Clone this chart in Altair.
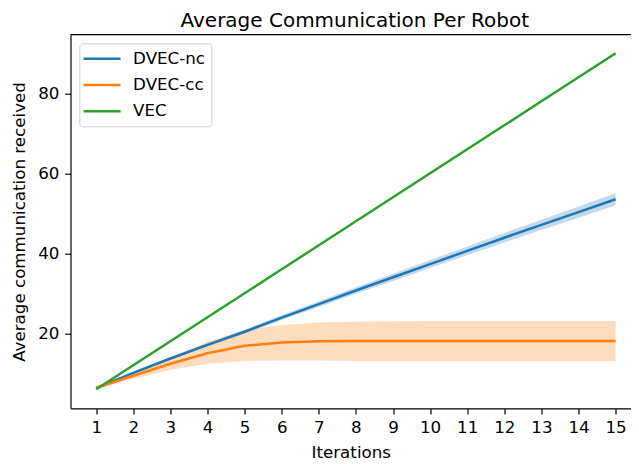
import altair as alt
import pandas as pd

# ---- data ----
iterations = list(range(1, 16))
series_names = ["DVEC-nc", "DVEC-cc", "VEC"]
series_colors = ["#1f77b4", "#ff7f0e", "#2ca02c"]

dvec_nc_mean = [6.3, 10.1, 13.7, 17.1, 20.4, 23.9, 27.3, 30.7, 34.0, 37.3, 40.6, 43.9, 47.1, 50.3, 53.5]
dvec_nc_lo = [6.1, 9.8, 13.3, 16.7, 19.9, 23.3, 26.6, 29.9, 33.1, 36.3, 39.5, 42.7, 45.8, 48.9, 52.0]
dvec_nc_hi = [6.5, 10.4, 14.1, 17.5, 20.9, 24.5, 28.0, 31.5, 34.9, 38.3, 41.7, 45.1, 48.4, 51.7, 55.0]

dvec_cc_mean = [6.4, 9.4, 12.4, 15.0, 16.9, 17.7, 18.0, 18.1, 18.1, 18.1, 18.1, 18.1, 18.1, 18.1, 18.1]
dvec_cc_lo = [6.1, 8.6, 10.9, 12.4, 13.1, 13.2, 13.2, 13.1, 13.1, 13.1, 13.1, 13.1, 13.1, 13.1, 13.1]
dvec_cc_hi = [6.7, 10.1, 13.9, 17.9, 20.8, 22.1, 22.7, 22.9, 23.0, 23.1, 23.1, 23.1, 23.1, 23.1, 23.1]

vec_mean = [6, 12, 18, 24, 30, 36, 42, 48, 54, 60, 66, 72, 78, 84, 90]

x_ticks = iterations
y_ticks = [20, 40, 60, 80]

# ---- tables built from the arrays ----
line_rows = []
for name, vals in zip(series_names, [dvec_nc_mean, dvec_cc_mean, vec_mean]):
    for it, v in zip(iterations, vals):
        line_rows.append({"Iterations": it, "series": name, "value": v})
lines_df = pd.DataFrame(line_rows)

band_rows = []
for name, lo, hi in [("DVEC-nc", dvec_nc_lo, dvec_nc_hi), ("DVEC-cc", dvec_cc_lo, dvec_cc_hi)]:
    for it, a, b in zip(iterations, lo, hi):
        band_rows.append({"Iterations": it, "band": name, "lo": a, "hi": b})
band_df = pd.DataFrame(band_rows)

W = 560.5
H = 373.6
FONT = "DejaVu Sans"

x_scale = alt.Scale(domain=[0.307, 15.415], nice=False, zero=False)
y_scale = alt.Scale(domain=[1.25, 94.65], nice=False, zero=False)
c_scale = alt.Scale(domain=series_names, range=series_colors)
f_scale = alt.Scale(domain=series_names[:2], range=series_colors[:2])

x_axis = alt.Axis(values=x_ticks, format="d", title="Iterations", titlePadding=8)
y_axis = alt.Axis(values=y_ticks, format="d", title="Average communication received", titlePadding=9)

band = alt.Chart(band_df).mark_area(opacity=0.27).encode(
    x=alt.X("Iterations:Q", scale=x_scale, axis=x_axis),
    y=alt.Y("lo:Q", scale=y_scale, axis=y_axis),
    y2="hi:Q",
    fill=alt.Fill("band:N", scale=f_scale, legend=None),
    detail="band:N",
)

lines = alt.Chart(lines_df).mark_line(strokeWidth=2.5).encode(
    x=alt.X("Iterations:Q", scale=x_scale, axis=x_axis),
    y=alt.Y("value:Q", scale=y_scale, axis=y_axis),
    color=alt.Color(
        "series:N",
        scale=c_scale,
        sort=series_names,
        legend=alt.Legend(
            title=None,
            orient="none",
            legendX=8.8,
            legendY=8.6,
            symbolType="M-2.27,0H2.27",
            symbolSize=266,
            symbolStrokeWidth=2.5,
            symbolOffset=7.3,
            labelFontSize=16.7,
            labelFont=FONT,
            labelColor="black",
            labelOffset=21.5,
            rowPadding=7.2,
            padding=6,
            strokeColor="#d0d0d0",
            fillColor="rgba(255,255,255,0.8)",
            cornerRadius=3,
        ),
    ),
)

top_frame = alt.Chart(pd.DataFrame({"k": [0]})).mark_rule(color="black", strokeWidth=1.2).encode(
    x=alt.value(0), x2=alt.value(W), y=alt.value(0)
)

chart = (
    alt.layer(band, lines, top_frame)
    .properties(
        width=W,
        height=H,
        title=alt.TitleParams(
            "Average Communication Per Robot",
            fontSize=20,
            font=FONT,
            fontWeight="normal",
            color="black",
            anchor="middle",
            frame="group",
            baseline="alphabetic",
            offset=8.7,
            dy=21.5,
            dx=4,
        ),
        autosize=alt.AutoSizeParams(type="none"),
        padding={"left": 62.5, "top": 26.7, "right": 0, "bottom": 53},
    )
    .configure_view(stroke=None)
    .configure_axis(
        grid=False,
        domainColor="black",
        domainWidth=1.2,
        tickColor="black",
        tickWidth=1.2,
        tickSize=5.8,
        labelPadding=5.8,
        labelFont=FONT,
        labelFontSize=16.7,
        labelColor="black",
        titleFont=FONT,
        titleFontSize=16.7,
        titleFontWeight="normal",
        titleColor="black",
    )
)

chart.save("out.html", embed_options={"renderer": "svg", "actions": False})
